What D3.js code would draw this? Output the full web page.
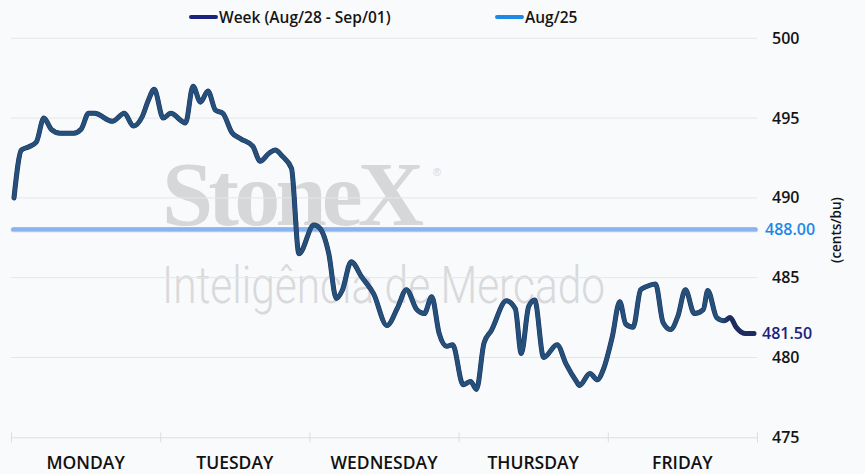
<!DOCTYPE html>
<html>
<head>
<meta charset="utf-8">
<script src="https://cdn.jsdelivr.net/npm/d3@7"></script>
<style>
  html, body { margin: 0; padding: 0; background: #f9fafc; }
  svg { display: block; }
</style>
</head>
<body>
<svg id="chart" width="865" height="474"></svg>
<script>
(function() {

  // day labels along the bottom
  var days = ["MONDAY", "TUESDAY", "WEDNESDAY", "THURSDAY", "FRIDAY"];

  // time in trading days (0 = monday open, 5 = friday close)
  var weekTime = [
    0.02, 0.07, 0.12, 0.17, 0.22, 0.27, 0.33, 0.42, 0.47, 0.52,
    0.56, 0.68, 0.76, 0.82, 0.88, 0.92, 0.96, 1.02, 1.07, 1.17,
    1.22, 1.27, 1.32, 1.37, 1.42, 1.48, 1.54, 1.62, 1.67, 1.73,
    1.77, 1.82, 1.88, 1.93, 2.03, 2.07, 2.13, 2.18, 2.22, 2.28,
    2.35, 2.43, 2.52, 2.59, 2.65, 2.72, 2.77, 2.82, 2.87, 2.92,
    2.96, 3.03, 3.08, 3.12, 3.17, 3.22, 3.32, 3.38, 3.42, 3.47,
    3.51, 3.57, 3.66, 3.72, 3.79, 3.81, 3.88, 3.93, 3.97, 4.03,
    4.08, 4.12, 4.17, 4.22, 4.26, 4.32, 4.37, 4.42, 4.47, 4.52,
    4.58, 4.64, 4.67, 4.73, 4.78, 4.82, 4.86, 4.92, 4.98
  ];

  // week price (cents/bu)
  var weekPrice = [
    490.0, 493.0, 493.2, 493.5, 495.0, 494.3, 494.05, 494.05, 494.3, 495.3,
    495.3, 494.8, 495.3, 494.5, 495.1, 496.1, 496.8, 495.0, 495.3, 494.7,
    497.0, 496.0, 496.7, 495.5, 495.3, 494.1, 493.7, 493.25, 492.3, 492.8,
    493.0, 492.6, 491.85, 486.5, 488.3, 488.1, 486.5, 483.7, 484.2, 486.0,
    485.05, 484.0, 482.0, 483.1, 484.25, 483.0, 482.75, 483.8, 481.5, 480.7,
    480.8, 478.3, 478.5, 478.0, 480.9, 481.7, 483.55, 483.05, 480.25, 483.2,
    483.6, 480.0, 480.8, 479.6, 478.5, 478.25, 479.0, 478.6, 479.25, 481.3,
    483.5, 482.1, 481.9, 484.25, 484.45, 484.6, 482.2, 481.75, 482.6, 484.25,
    482.75, 483.0, 484.2, 482.5, 482.3, 482.5, 481.9, 481.5, 481.5
  ];

  var refPrice = 488.00;     // Aug/25 close
  var lastPrice = 481.50;    // last value of the week
  var yTicks = [475, 480, 485, 490, 495, 500];
  var legendLabels = ["Week (Aug/28 - Sep/01)", "Aug/25"];

  var weekColor = "#24507a";
  var weekTail = "#1f2b5e";
  var legendNavy = "#1a237e";
  var refColor = "#8ab4f0";
  var refLabel = "#1e88e5";

  var svg = d3.select("#chart");

  var x = d3.scaleLinear().domain([0, 5]).range([11, 757]);
  var y = d3.scaleLinear().domain([475, 500]).range([437.3, 38.3]);

  // ---- watermark ----
  var wm = svg.append("g").attr("class", "watermark");
  wm.append("text")
    .attr("x", 162).attr("y", 225)
    .style("font-family", "'Liberation Serif', 'DejaVu Serif', serif")
    .style("font-weight", "bold")
    .style("font-size", "92px")
    .style("letter-spacing", "-4.8px")
    .style("fill", "#d6d7d8")
    .text("StoneX");
  wm.append("text")
    .attr("x", 433).attr("y", 176)
    .style("font-family", "'Liberation Sans', sans-serif")
    .style("font-size", "11px")
    .style("fill", "#d4d5d6")
    .text("\u00ae");
  wm.append("text")
    .attr("x", 162).attr("y", 303)
    .attr("textLength", 443).attr("lengthAdjust", "spacingAndGlyphs")
    .style("font-family", "Roboto, Lato, 'Open Sans', sans-serif")
    .style("font-weight", 300)
    .style("font-size", "52px")
    .style("fill", "#d8d9da")
    .text("Inteligência de Mercado");

  // ---- grid ----
  svg.append("g").selectAll("line")
    .data(yTicks.slice(1))
    .enter().append("line")
    .attr("x1", x(0)).attr("x2", x(5))
    .attr("y1", function(d) { return y(d); })
    .attr("y2", function(d) { return y(d); })
    .style("stroke", "#e4e6e9")
    .style("stroke-width", 1);

  // ---- x axis ----
  var xAxis = d3.axisBottom(x)
    .tickValues([0, 1, 2, 3, 4, 5])
    .tickSize(5)
    .tickFormat("");
  var xg = svg.append("g")
    .attr("transform", "translate(0," + y(475) + ")")
    .call(xAxis);
  xg.select(".domain").style("stroke", "#dcdfe3");
  xg.selectAll(".tick line")
    .attr("y1", -5)
    .style("stroke", "#dcdfe3");

  svg.append("g").selectAll("text")
    .data(days)
    .enter().append("text")
    .attr("x", function(d, i) { return x(i + 0.5); })
    .attr("y", 469)
    .attr("text-anchor", "middle")
    .style("font-family", "'Open Sans', sans-serif")
    .style("font-weight", 600)
    .style("font-size", "17.5px")
    .style("fill", "#111")
    .text(function(d) { return d; });

  // ---- y axis labels (right) ----
  svg.append("g").selectAll("text")
    .data(yTicks)
    .enter().append("text")
    .attr("x", 772)
    .attr("y", function(d) { return y(d) + 5.5; })
    .style("font-family", "'Open Sans', sans-serif")
    .style("font-weight", 600)
    .style("font-size", "16px")
    .style("fill", "#151515")
    .text(function(d) { return d; });

  svg.append("text")
    .attr("transform", "translate(841," + 230 + ") rotate(-90)")
    .attr("text-anchor", "middle")
    .style("font-family", "'Open Sans', sans-serif")
    .style("font-weight", 600)
    .style("font-size", "13.5px")
    .style("fill", "#151515")
    .text("(cents/bu)");

  // ---- reference line ----
  svg.append("line")
    .attr("x1", x(0.015)).attr("x2", x(4.99))
    .attr("y1", y(refPrice)).attr("y2", y(refPrice))
    .style("stroke", "#9aa7b8")
    .style("stroke-width", 5)
    .style("stroke-linecap", "round")
    .style("opacity", 0.55);
  svg.append("line")
    .attr("x1", x(0.015)).attr("x2", x(4.99))
    .attr("y1", y(refPrice) - 0.5).attr("y2", y(refPrice) - 0.5)
    .style("stroke", refColor)
    .style("stroke-width", 4)
    .style("stroke-linecap", "round");

  svg.append("text")
    .attr("x", 765).attr("y", y(refPrice) + 5.5)
    .style("font-family", "'Open Sans', sans-serif")
    .style("font-weight", 600)
    .style("font-size", "16px")
    .style("fill", refLabel)
    .text(refPrice.toFixed(2));

  // ---- week line ----
  var points = weekTime.map(function(t, i) { return { t: t, v: weekPrice[i] }; });

  var grad = svg.append("defs").append("linearGradient")
    .attr("id", "weekGrad")
    .attr("gradientUnits", "userSpaceOnUse")
    .attr("x1", x(0)).attr("x2", x(5))
    .attr("y1", 0).attr("y2", 0);
  grad.append("stop").attr("offset", "0%").attr("stop-color", weekColor);
  grad.append("stop").attr("offset", "95.2%").attr("stop-color", weekColor);
  grad.append("stop").attr("offset", "96.2%").attr("stop-color", weekTail);
  grad.append("stop").attr("offset", "100%").attr("stop-color", weekTail);

  var line = d3.line()
    .x(function(d) { return x(d.t); })
    .y(function(d) { return y(d.v); })
    .curve(d3.curveMonotoneX);

  // thin darker outline under the main stroke
  svg.append("path")
    .datum(points)
    .attr("d", line)
    .style("fill", "none")
    .style("stroke", "#1c2f5e")
    .style("stroke-width", 5)
    .style("stroke-linejoin", "round")
    .style("stroke-linecap", "round");
  svg.append("path")
    .datum(points)
    .attr("d", line)
    .style("fill", "none")
    .style("stroke", "url(#weekGrad)")
    .style("stroke-width", 4)
    .style("stroke-linejoin", "round")
    .style("stroke-linecap", "round");

  svg.append("text")
    .attr("x", 762).attr("y", y(lastPrice) + 5.5)
    .style("font-family", "'Open Sans', sans-serif")
    .style("font-weight", 600)
    .style("font-size", "16px")
    .style("fill", legendNavy)
    .text(lastPrice.toFixed(2));

  // ---- legend ----
  var legendItems = [
    { label: legendLabels[0], color: legendNavy, x: 190 },
    { label: legendLabels[1], color: refLabel, x: 496 }
  ];
  var lg = svg.append("g").selectAll("g")
    .data(legendItems)
    .enter().append("g")
    .attr("transform", function(d) { return "translate(" + d.x + ",17)"; });
  lg.append("line")
    .attr("x1", 1).attr("x2", 26)
    .attr("y1", 0).attr("y2", 0)
    .style("stroke", function(d) { return d.color; })
    .style("stroke-width", 4)
    .style("stroke-linecap", "round");
  lg.append("text")
    .attr("x", 29).attr("y", 6)
    .style("font-family", "'Open Sans', sans-serif")
    .style("font-weight", 600)
    .style("font-size", "15.5px")
    .style("fill", "#151515")
    .text(function(d) { return d.label; });

}());
</script>
</body>
</html>
